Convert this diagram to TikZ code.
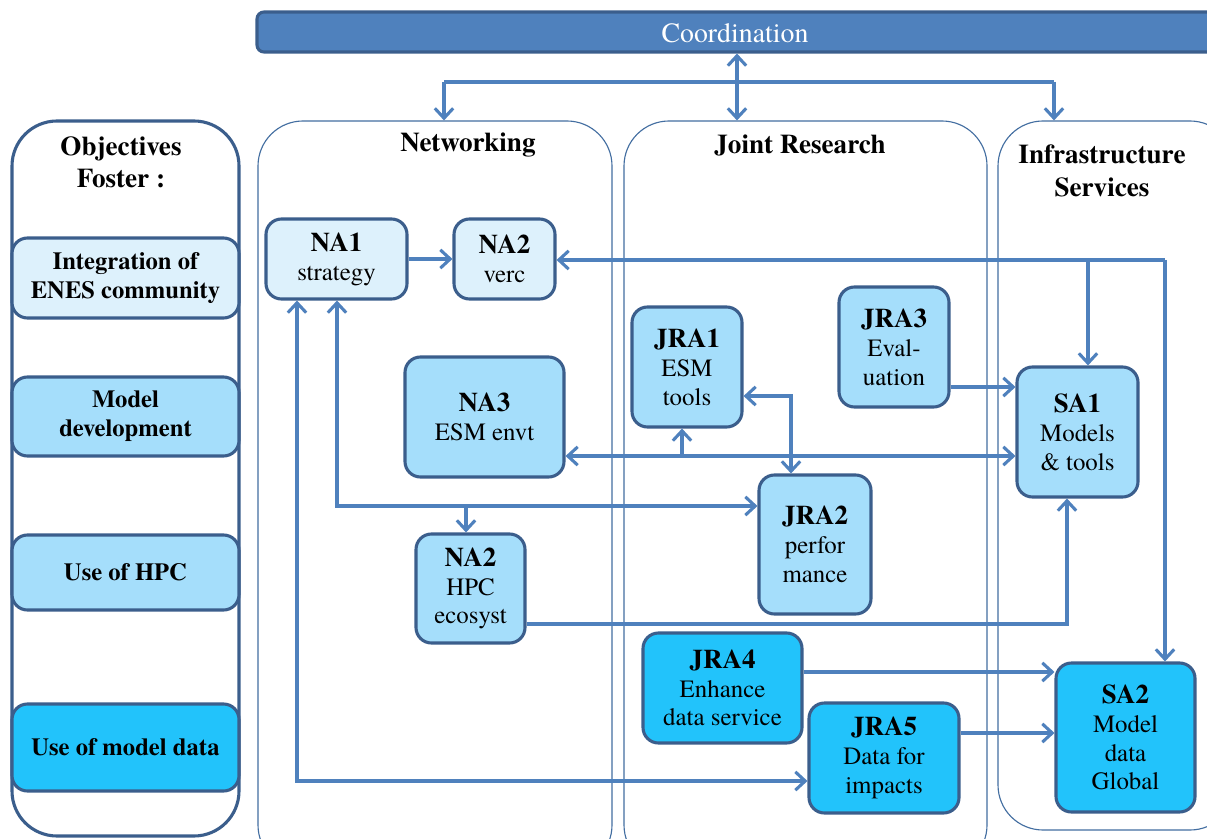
\documentclass[tikz,border=0pt]{standalone}
\usepackage{fontspec}
\setmainfont{TeX Gyre Termes}
\usetikzlibrary{arrows.meta}
\definecolor{cblue}{HTML}{4F81BD}
\definecolor{bdark}{HTML}{3B5E8C}
\definecolor{fillA}{HTML}{DDF1FC}
\definecolor{fillB}{HTML}{A5DEFB}
\definecolor{fillC}{HTML}{22C3FB}
\newcommand{\hd}[1]{{\bfseries\fontsize{19.2}{20.5}\selectfont #1}}

\begin{document}
\begin{tikzpicture}[x=0.025cm,y=-0.025cm,
  >={Straight Barb[length=7pt,width=13pt]},
  sz/.style 2 args={minimum width=#1*0.025cm, minimum height=#2*0.025cm},
  unit/.style={draw=bdark, line width=2.2pt, rounded corners=11pt, inner sep=0pt,
    align=center, font=\fontsize{17.7}{20.5}\selectfont},
  light/.style={unit, fill=fillA},
  mid/.style={unit, fill=fillB},
  deep/.style={unit, fill=fillC},
  goal/.style={draw=bdark, line width=2.2pt, rounded corners=11pt, inner sep=0pt,
    align=center, font=\bfseries\fontsize{17.5}{20.5}\selectfont},
  panel/.style={draw=cblue!85!black, line width=0.8pt, rounded corners=32pt, inner sep=0pt},
  heading/.style={font=\bfseries\fontsize{19.3}{23}\selectfont, align=center, inner sep=0pt},
  conn/.style={draw=cblue, line width=2.2pt}
]
\useasboundingbox (0,0) rectangle (1207,839);
\fill[white] (0,0) rectangle (1207,839);
\clip (0,0) rectangle (1207,839);

% coordination bar
\node[draw=bdark, fill=cblue, line width=2.2pt, rounded corners=5pt, sz={958}{40}] (coord) at (736,32) {};
\node[text=white, font=\fontsize{19.8}{22}\selectfont, inner sep=0pt] (coordtxt) at (735,33) {Coordination};

% column panels
\node[panel, draw=bdark, line width=2.2pt, sz={227}{715}] (obj) at (125.5,478.5) {};
\node[panel, sz={354}{749}] (net) at (435,495.5) {};
\node[panel, sz={363}{749}] (jr) at (805.5,495.5) {};
\node[panel, sz={237}{709}] (infra) at (1116.5,475.5) {};

% panel headings
\node[heading] (hobj) at (121,162) {Objectives\\Foster :};
\node[heading] (hnet) at (468,145) {Networking};
\node[heading] (hjr) at (800,145) {Joint Research};
\node[heading] (hinf) at (1102,171) {Infrastructure\\Services};

% objectives
\node[goal, fill=fillA, sz={227}{80}] (g1) at (125.5,278) {Integration of\\ENES community};
\node[goal, fill=fillB, sz={227}{79}] (g2) at (125.5,416.5) {Model\\development};
\node[goal, fill=fillB, sz={227}{75}] (g3) at (125.5,572.5) {Use of HPC};
\node[goal, fill=fillC, sz={227}{87}] (g4) at (125.5,747.5) {Use of model data};

% networking activities
\node[light, sz={141}{80}] (na1) at (336.5,259) {\hd{NA1}\\strategy};
\node[light, sz={101}{80}] (na2v) at (504.5,259) {\hd{NA2}\\verc};
\node[mid, sz={159}{120}] (na3) at (484.5,417) {\hd{NA3}\\ESM envt};
\node[mid, sz={109}{109}] (na2h) at (470.5,588.5) {\hd{NA2}\\HPC\\ecosyst};

% joint research activities
\node[mid, sz={110}{120}] (jra1) at (687,367) {\hd{JRA1}\\ESM\\tools};
\node[mid, sz={110}{120}] (jra3) at (894,347) {\hd{JRA3}\\Eval-\\uation};
\node[mid, sz={112}{139}] (jra2) at (815,544.5) {\hd{JRA2}\\perfor\\mance};
\node[deep, sz={159}{110}] (jra4) at (722.5,688) {\hd{JRA4}\\Enhance\\data service};
\node[deep, sz={150}{110}] (jra5) at (884,758) {\hd{JRA5}\\Data for\\impacts};

% service activities
\node[mid, sz={121}{130}] (sa1) at (1077.5,432) {\hd{SA1}\\Models\\\& tools};
\node[deep, sz={139}{149}] (sa2) at (1125.5,737.5) {\hd{SA2}\\Model\\data\\Global};

% coordination links
\coordinate (k0) at (737,82);
\coordinate (ka) at (444,82);
\coordinate (kb) at (1054,82);
\draw[conn,<->] (coord.south -| k0) -- (k0 |- jr.north);
\draw[conn] (ka) -- (kb);
\draw[conn,->] (ka) -- (ka |- net.north);
\draw[conn,->] (kb) -- (kb |- infra.north);

% links between activities
\draw[conn,->] (na1.east) -- (na2v.west);

\coordinate (r1) at (1088,260);
\coordinate (r2) at (1165,260);
\draw[conn,->] (r2) -- (na2v.east |- r2);
\draw[conn,->] (r1) -- (r1 |- sa1.north);
\draw[conn,->] (r2) -- (r2 |- sa2.north);

\coordinate (b1) at (297,781);
\draw[conn,<->] (na1.south -| b1) -- (b1) -- (jra5.west |- b1);

\coordinate (b2) at (337,506);
\coordinate (b3) at (466,506);
\draw[conn,<->] (na1.south -| b2) -- (b2) -- (jra2.west |- b2);
\draw[conn,->] (b3) -- (b3 |- na2h.north);

\coordinate (m1) at (682,456);
\draw[conn,<->] (na3.east |- m1) -- (sa1.west |- m1);
\draw[conn,->] (m1) -- (m1 |- jra1.south);

\coordinate (m2) at (791,396);
\draw[conn,<->] (jra1.east |- m2) -- (m2) -- (m2 |- jra2.north);

\coordinate (m3) at (950,387);
\draw[conn,->] (jra3.east |- m3) -- (sa1.west |- m3);

\coordinate (m4) at (1067,624);
\draw[conn,->] (na2h.east |- m4) -- (m4) -- (m4 |- sa1.south);

\coordinate (m5) at (803,672);
\draw[conn,->] (jra4.east |- m5) -- (sa2.west |- m5);
\coordinate (m6) at (960,733);
\draw[conn,->] (jra5.east |- m6) -- (sa2.west |- m6);
\end{tikzpicture}
\end{document}
